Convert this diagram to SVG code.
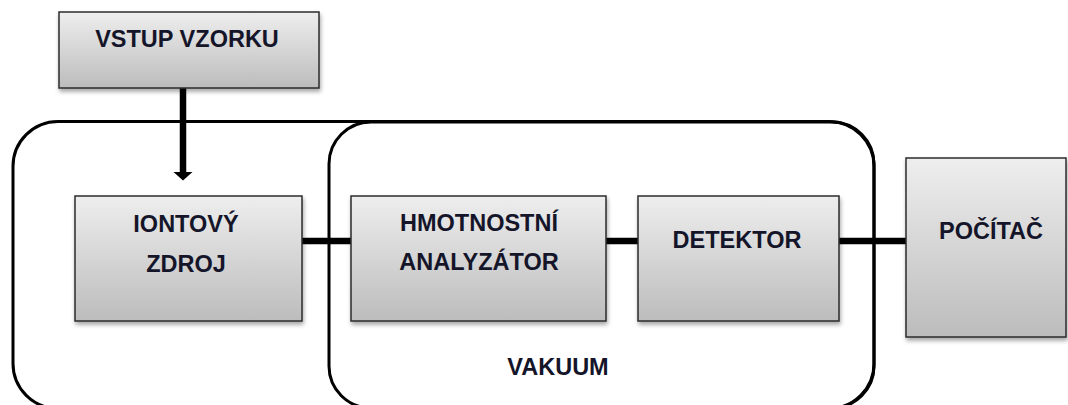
<svg xmlns="http://www.w3.org/2000/svg" width="1068" height="405" viewBox="0 0 1068 405">
  <defs>
    <linearGradient id="boxGrad" x1="0" y1="0" x2="0" y2="1">
      <stop offset="0" stop-color="#eeeeee"/>
      <stop offset="1" stop-color="#bcbcbc"/>
    </linearGradient>
    <filter id="shadow" x="-10%" y="-10%" width="120%" height="130%">
      <feDropShadow dx="1" dy="3" stdDeviation="2" flood-color="#000" flood-opacity="0.35"/>
    </filter>
  </defs>
  <style>
    .box { fill: url(#boxGrad); stroke: #2b2b2b; stroke-width: 1.5; filter: url(#shadow); }
    .region { fill: none; stroke: #000; stroke-width: 3; }
    .lbl { font-family: "Liberation Sans", Arial, sans-serif; font-weight: bold; font-size: 23.5px; fill: #15152a; text-anchor: middle; }
    .conn { stroke: #000; stroke-width: 6.5; fill: none; }
  </style>
  <rect width="1068" height="405" fill="#ffffff"/>

  <g id="region-outer">
    <rect class="region" x="13" y="121.5" width="861" height="287" rx="45" ry="45"/>
  </g>
  <g id="region-vakuum">
    <rect class="region" x="329" y="122" width="545" height="286" rx="42" ry="42"/>
    <text class="lbl" x="558" y="375">VAKUUM</text>
  </g>

  <g id="connectors">
    <line class="conn" x1="183" y1="88" x2="183" y2="173"/>
    <polygon points="173.5,172 192.5,172 183,180.5" fill="#000"/>
    <line class="conn" x1="302" y1="241" x2="351" y2="241"/>
    <line class="conn" x1="606" y1="241" x2="638" y2="241"/>
    <line class="conn" x1="839" y1="241" x2="906" y2="241"/>
  </g>

  <g id="node-vstup">
    <rect class="box" x="59" y="12" width="260" height="76"/>
    <text class="lbl" x="187" y="47">VSTUP VZORKU</text>
  </g>
  <g id="node-zdroj">
    <rect class="box" x="75" y="196" width="227" height="125"/>
    <text class="lbl" x="186" y="232">IONTOVÝ</text>
    <text class="lbl" x="186" y="272">ZDROJ</text>
  </g>
  <g id="node-analyzator">
    <rect class="box" x="351" y="196" width="255" height="125"/>
    <text class="lbl" x="479" y="231">HMOTNOSTNÍ</text>
    <text class="lbl" x="479" y="270">ANALYZÁTOR</text>
  </g>
  <g id="node-detektor">
    <rect class="box" x="638" y="196" width="201" height="125"/>
    <text class="lbl" x="737" y="248">DETEKTOR</text>
  </g>
  <g id="node-pocitac">
    <rect class="box" x="906" y="158" width="160" height="179"/>
    <text class="lbl" x="991" y="239">POČÍTAČ</text>
  </g>
</svg>
